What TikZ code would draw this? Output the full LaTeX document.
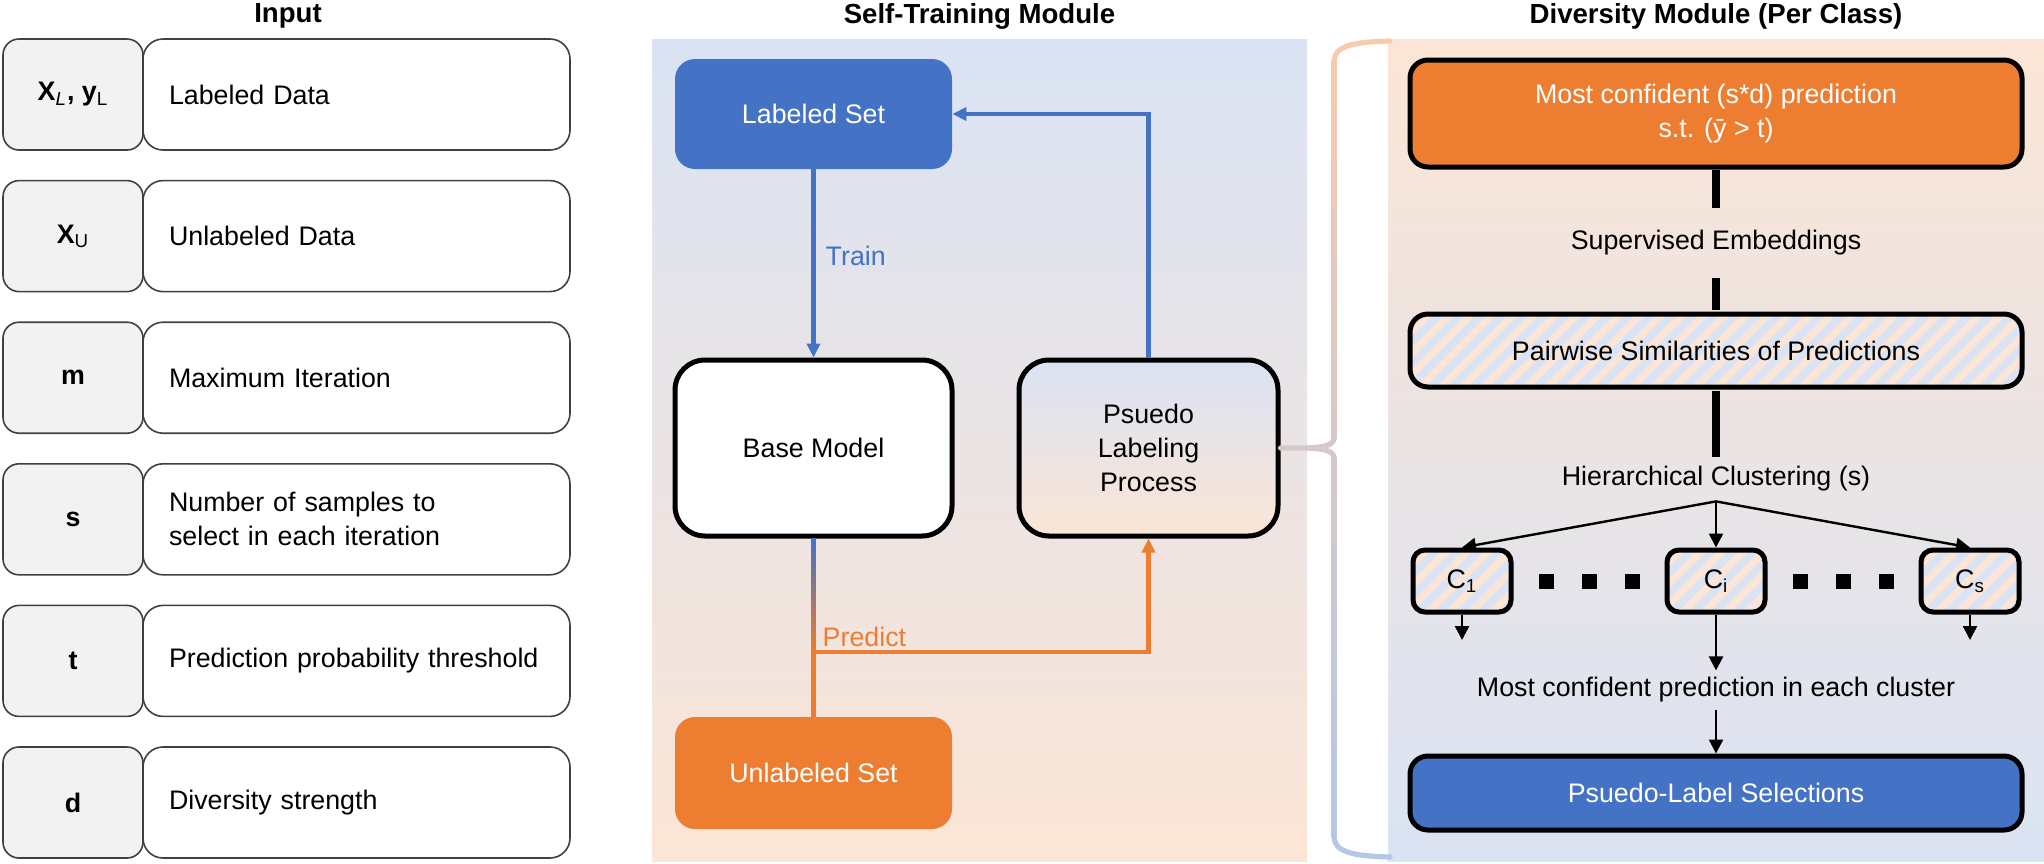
\documentclass[tikz,border=0pt]{standalone}
\usepackage{fontspec}
\setmainfont{Liberation Sans}
\usetikzlibrary{positioning,arrows.meta,patterns.meta}
\definecolor{stblue}{HTML}{4472C4}
\definecolor{storange}{HTML}{ED7D31}
\definecolor{bgblue}{HTML}{DAE3F3}
\definecolor{bgorange}{HTML}{FBE5D6}
\definecolor{symgray}{HTML}{F2F2F2}
\definecolor{bracetop}{HTML}{F8CBAD}
\definecolor{bracebot}{HTML}{B4C7E7}

\begin{document}
\begin{tikzpicture}[x=0.5pt,y=-0.5pt,on grid,
  font=\fontsize{13.4}{17}\selectfont,
  sym/.style={draw=black!75,fill=symgray,line width=0.8pt,rounded corners=8pt,minimum width=70pt,minimum height=55.5pt,font=\fontsize{13.4}{17}\selectfont\bfseries},
  desc/.style={draw=black!75,fill=white,line width=0.8pt,rounded corners=10pt,minimum width=213.5pt,minimum height=55.5pt,text width=187.5pt,inner xsep=13pt,align=left},
  headline/.style={font=\fontsize{13.8}{17}\selectfont\bfseries},
  setbox/.style={rounded corners=10pt,minimum width=138.5pt,text=white},
  bigbox/.style={draw=black,line width=2.5pt,rounded corners=15pt,minimum height=88pt,align=center},
  divbox/.style={draw=black,line width=2.5pt,rounded corners=9pt,minimum width=306pt,align=center},
  hatched/.style={preaction={fill=bgorange},pattern={Lines[angle=45,distance=7.5pt,line width=3.8pt]},pattern color=bgblue},
  cbox/.style={hatched,draw=black,line width=2.5pt,rounded corners=6pt,minimum width=49pt,minimum height=31pt},
  blue arrow/.style={draw=stblue,line width=2.2pt,-{Triangle[length=7pt,width=6.5pt]}},
  orange line/.style={draw=storange,line width=2.2pt},
  brace line/.style={line width=2.6pt,line cap=round},
  thick link/.style={draw=black,line width=4pt},
  thin arrow/.style={draw=black,line width=1.2pt,-{Triangle[length=7pt,width=7pt]}}
]
\useasboundingbox (0,0) rectangle (2044,863);
% panels
\shade[top color=bgblue,bottom color=bgorange] (652,39) rectangle (1307,861);
\shade[top color=bgorange,bottom color=bgblue] (1388,39) rectangle (2044,861);

\node[headline] (t_in) at (288,16) {Input};
\node[headline] (t_st) at (979.5,16) {Self-Training Module};
\node[headline] (t_dm) at (1716,16) {Diversity Module (Per Class)};

% input list
\node[sym] (in_xl) at (73,94.5) {X\textsubscript{\normalfont\itshape L}, y\textsubscript{\normalfont L}};
\node[sym] (in_xu) [below=70.8pt of in_xl] {X\textsubscript{\normalfont U}};
\node[sym] (in_m) [below=70.8pt of in_xu] {m};
\node[sym] (in_s) [below=70.8pt of in_m] {s};
\node[sym] (in_t) [below=70.8pt of in_s] {t};
\node[sym] (in_d) [below=70.8pt of in_t] {d};
\node[desc] (in_xl_d) [right=141.75pt of in_xl] {Labeled Data};
\node[desc] (in_xu_d) [right=141.75pt of in_xu] {Unlabeled Data};
\node[desc] (in_m_d) [right=141.75pt of in_m] {Maximum Iteration};
\node[desc] (in_s_d) [right=141.75pt of in_s] {Number of samples to\\select in each iteration};
\node[desc] (in_t_d) [right=141.75pt of in_t] {Prediction probability threshold};
\node[desc] (in_d_d) [right=141.75pt of in_d] {Diversity strength};

% self-training
\node[setbox,fill=stblue,minimum height=55pt] (lab) at (813.5,114) {Labeled Set};
\node[bigbox,fill=white,minimum width=138.5pt] (base) at (813.5,448) {Base Model};
\node[bigbox,top color=bgblue,bottom color=bgorange,minimum width=129.5pt] (pl) at (1148.5,448) {Psuedo\\Labeling\\Process};
\node[setbox,fill=storange,minimum height=56pt] (unl) at (813.5,773) {Unlabeled Set};
\coordinate (pj) at (813.5,652);

\draw[blue arrow] (lab) -- node[pos=0.46,anchor=west,inner sep=1pt,xshift=4pt,text=stblue] {Train} (base);
\draw[blue arrow] (pl) |- (lab);
\shade[top color=stblue,bottom color=storange] ([xshift=-1.1pt]base.south) rectangle ([xshift=1.1pt]pj);
\draw[orange line] (unl) -- (pj);
\draw[orange line,-{Triangle[length=7pt,width=6.5pt]}] (pj) -| node[pos=0,anchor=south west,inner sep=1.5pt,xshift=2pt,text=storange] {Predict} (pl);

% brace
\draw[brace line,draw=bracetop] (1390,41) .. controls (1352,42) and (1334,46) .. (1334,62);
\foreach \ya/\yb in {62/110,110/160,160/210,210/260,260/310,310/360,360/410,410/438,458/500,500/550,550/600,600/650,650/700,700/750,750/800,800/836}{
  \pgfmathsetmacro\mixp{((\ya+\yb)/2-41)/8.16}
  \draw[brace line,draw=bracebot!\mixp!bracetop] (1334,\ya) -- (1334,\yb);
}
\draw[brace line,draw=bracebot] (1334,836) .. controls (1334,852) and (1352,856) .. (1390,857);
\draw[brace line,draw=bracebot!50!bracetop] (pl.east) -- (1308,448) .. controls (1322,447) and (1334,446) .. (1334,438);
\draw[brace line,draw=bracebot!50!bracetop] (1308,448) .. controls (1322,449) and (1334,450) .. (1334,458);

% diversity module
\node[divbox,fill=storange,text=white,minimum height=53.5pt] (mcp) at (1716,113.5) {Most confident (s*d) prediction\\s.t. (\={y} > t)};
\node[minimum height=35pt] (sem) at (1716,243) {Supervised Embeddings};
\node[divbox,hatched,minimum height=36.5pt] (pws) at (1716,350.5) {Pairwise Similarities of Predictions};
\node[minimum height=22pt] (hcl) at (1716,479) {Hierarchical Clustering (s)};
\draw[thick link] (mcp) -- (sem) -- (pws) -- (hcl);

\node[cbox] (c1) at (1462,581) {C\textsubscript{1}};
\node[cbox] (ci) at (1716,581) {C\textsubscript{i}};
\node[cbox] (cs) at (1970,581) {C\textsubscript{s}};
\foreach \d in {1546,1589,1632,1800,1843,1886} \fill (\d-7.5,573.5) rectangle ++(15,15);

\draw[thin arrow] (hcl.south) -- (c1.north);
\draw[thin arrow] (hcl.south) -- (ci);
\draw[thin arrow] (hcl.south) -- (cs.north);
\coordinate (c1o) at (1462,640);
\coordinate (cso) at (1970,640);
\draw[thin arrow] (c1) -- (c1o);
\draw[thin arrow] (cs) -- (cso);

\node[minimum height=16pt] (mcc) at (1716,690) {Most confident prediction in each cluster};
\node[divbox,fill=stblue,text=white,minimum height=37pt] (psl) at (1716,793) {Psuedo-Label Selections};
\draw[thin arrow] (ci) -- (mcc);
\draw[thin arrow] (mcc) -- (psl);
\end{tikzpicture}
\end{document}
